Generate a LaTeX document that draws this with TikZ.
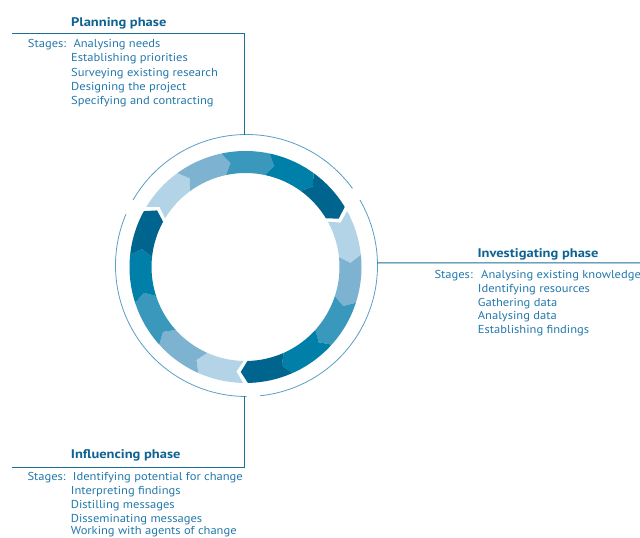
\documentclass[tikz,border=0pt]{standalone}
\usepackage{fontspec}
\setmainfont{PT Sans}[FakeStretch=1.09]
\newfontfamily\ttlfont{PT Sans}[FakeStretch=1.16]
\definecolor{ca}{HTML}{B3D4E7}
\definecolor{cb}{HTML}{7DB3D1}
\definecolor{cc}{HTML}{3A98BD}
\definecolor{cd}{HTML}{0080A8}
\definecolor{ce}{HTML}{00658E}
\definecolor{thin}{HTML}{5A9FC5}
\definecolor{leadc}{HTML}{1E6E95}
\definecolor{titlec}{HTML}{0F6391}
\definecolor{bodyc}{HTML}{2479AC}
\begin{document}
\begin{tikzpicture}[x=1pt,y=1pt,
  phasetitle/.style={anchor=base west,inner sep=0pt,text=titlec,font=\ttlfont\fontsize{12.5}{14}\selectfont\bfseries},
  stagetext/.style={anchor=base west,inner sep=0pt,text=bodyc,font=\fontsize{11.5}{14}\selectfont},
  leader/.style={draw=leadc,line width=1pt},
  thinring/.style={draw=thin,line width=0.8pt}]
\useasboundingbox (0,0) rectangle (640,538);
\fill[white] (0,0) rectangle (640,538);
% ring of arrows
\coordinate (rc) at (245.5,271);
\coordinate (tc) at (246.5,272.5);
\begin{scope}[shift={(rc)}]
\foreach \s in {150,30,-90}{
  \foreach \i/\c in {0/ca,1/cb,2/cc,3/cd,4/ce}{
    \pgfmathsetmacro\ta{\s-24*\i-(\i==0)*1.2}
    \pgfmathsetmacro\ha{\s-24*(\i+1)+(\i==4)*1.2}
    \pgfmathsetmacro\tn{\ta-3.8}
    \pgfmathsetmacro\hn{\ha-3.8}
    \fill[\c] (\ta:116) arc[start angle=\ta,end angle=\ha,radius=116]
      -- (\hn:105) -- (\ha:94) arc[start angle=\ha,end angle=\ta,radius=94]
      -- (\tn:105) -- cycle;
  }
}
\end{scope}
% thin outer ring with gaps
\begin{scope}[shift={(tc)}]
\draw[thinring] (36:131) arc[start angle=36,end angle=150,radius=131];
\draw[thinring] (157:131) arc[start angle=157,end angle=270,radius=131];
\draw[thinring] (276:131) arc[start angle=276,end angle=390,radius=131];
\coordinate (tTop) at (91:131);
\coordinate (tBot) at (269:131);
\coordinate (tRight) at (1.1:131);
\end{scope}
% leader lines
\coordinate (pL) at (12,504.3);
\coordinate (iL) at (12,70.7);
\coordinate (vR) at (640,275);
\draw[leader] (pL) -| (tTop);
\draw[leader] (iL) -| (tBot);
\draw[leader] (tRight) -- (vR);
% Planning phase
\node[phasetitle] (pt) at (71,511) {Planning phase};
\node[stagetext] (ps) at (27.7,490.3) {Stages:};
\node[stagetext] (p1) at (73.3,490.3) {Analysing needs};
\node[stagetext] (p2) at (71,476.1) {Establishing priorities};
\node[stagetext] (p3) at (71,461.9) {Surveying existing research};
\node[stagetext] (p4) at (71,447.7) {Designing the project};
\node[stagetext] (p5) at (71,433.5) {Specifying and contracting};
% Investigating phase
\node[phasetitle] (vt) at (477.3,280.7) {Investigating phase};
\node[stagetext] (vs) at (434.3,259.7) {Stages:};
\node[stagetext] (v1) at (481,259.7) {Analysing existing knowledge};
\node[stagetext] (v2) at (477.7,245.8) {Identifying resources};
\node[stagetext] (v3) at (477.7,231.9) {Gathering data};
\node[stagetext] (v4) at (477.7,218) {Analysing data};
\node[stagetext] (v5) at (477.7,204) {Establishing findings};
% Influencing phase
\node[phasetitle] (it) at (70.7,79) {Influencing phase};
\node[stagetext] (is) at (27.3,57) {Stages:};
\node[stagetext] (i1) at (72.7,57) {Identifying potential for change};
\node[stagetext] (i2) at (70.7,43.3) {Interpreting findings};
\node[stagetext] (i3) at (70.7,29.6) {Distilling messages};
\node[stagetext] (i4) at (70.7,15.9) {Disseminating messages};
\node[stagetext] (i5) at (70.7,3.2) {Working with agents of change};
\end{tikzpicture}
\end{document}
